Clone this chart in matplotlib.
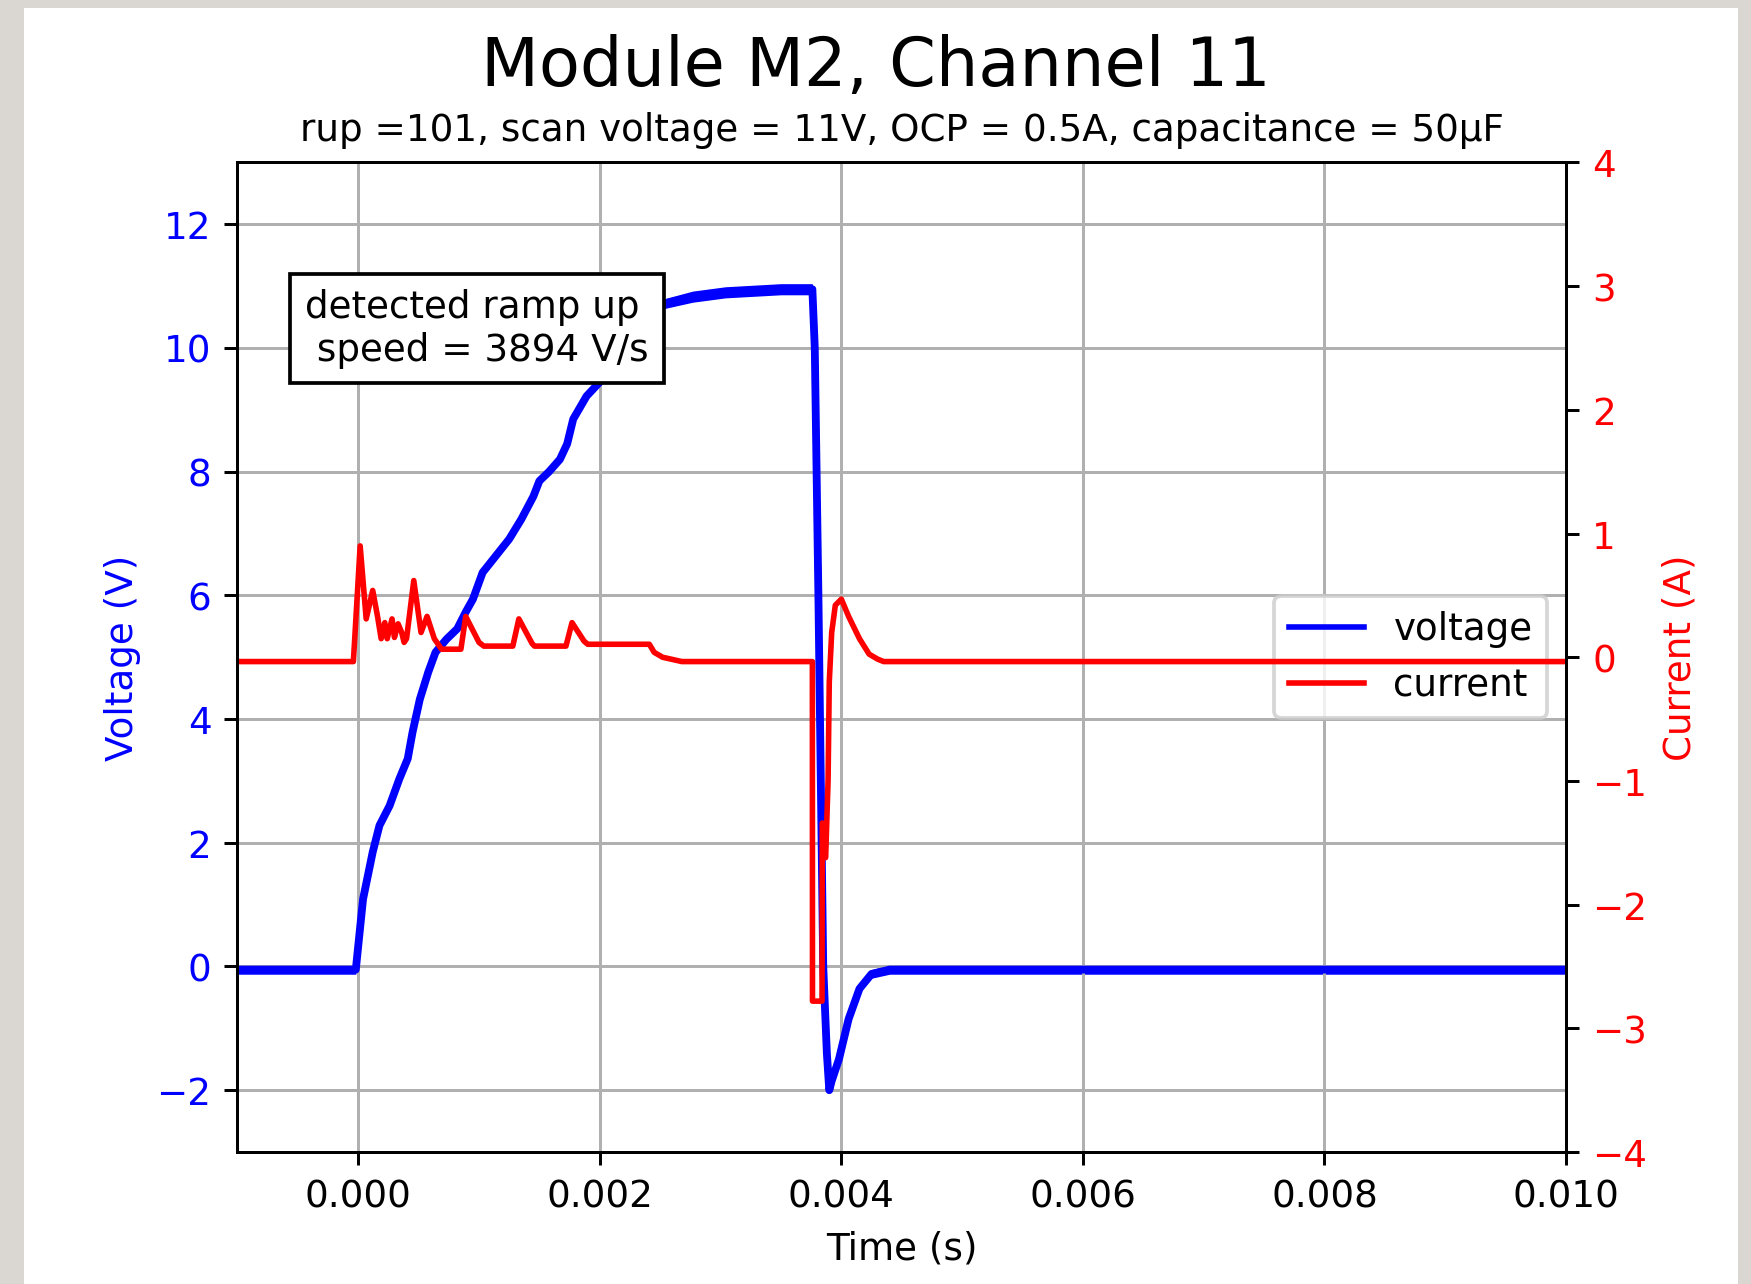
import matplotlib
matplotlib.use("Agg")
import matplotlib.pyplot as plt
import numpy as np
from matplotlib.patches import Rectangle

# Ramp-up scan, module M2 / channel 11
module = "M2"
channel = 11
rup = 101
scan_voltage = 11
ocp = 0.5
capacitance = 50
ramp_speed = 3894

# voltage trace (s, V) and the half-width of its noise band (V)
t_v = [-0.0011, -0.00002, 0.00004, 0.00012, 0.000176, 0.00026, 0.00034, 0.00041, 0.00045, 0.00051,
       0.00058, 0.00064, 0.00073, 0.00082, 0.00089, 0.00095, 0.00103, 0.00114, 0.00125, 0.00135,
       0.00145, 0.0015, 0.00158, 0.00167, 0.00173, 0.00178, 0.00189, 0.0020, 0.0022, 0.0024,
       0.00254, 0.00277, 0.00304, 0.0035, 0.00376, 0.00378, 0.00381, 0.00385, 0.00388, 0.0039,
       0.00392, 0.00398, 0.00406, 0.00415, 0.00425, 0.0044, 0.0102]
voltage = [-0.05, -0.05, 1.09, 1.85, 2.28, 2.60, 3.03, 3.36, 3.79, 4.32,
           4.76, 5.08, 5.29, 5.46, 5.73, 5.94, 6.37, 6.64, 6.91, 7.23,
           7.6, 7.85, 8.0, 8.2, 8.45, 8.85, 9.22, 9.45, 9.9, 10.4,
           10.72, 10.83, 10.9, 10.95, 10.95, 10.0, 6.0, 0.0, -1.4, -2.0,
           -1.85, -1.5, -0.85, -0.36, -0.12, -0.05, -0.05]
v_noise = [0.075, 0.075] + [0.05] * 26 + [0.06, 0.07] + [0.08, 0.09, 0.09, 0.09, 0.09] + [0.0] * 5 + \
          [0.02, 0.04, 0.05, 0.06, 0.07, 0.075, 0.075]

# current trace (s, A)
t_i = [-0.0011, -0.00004, 0.000016, 0.000066, 0.00012, 0.00016, 0.00019, 0.00022, 0.00024, 0.00028,
       0.00030, 0.00033, 0.00036, 0.00038, 0.00040, 0.00046, 0.00052, 0.00057, 0.00063, 0.00069,
       0.00085, 0.00089, 0.0010, 0.00104, 0.00128, 0.00133, 0.00144, 0.00146, 0.00172, 0.00177,
       0.00187, 0.0019, 0.00241, 0.00245, 0.00252, 0.00268, 0.00376, 0.003761, 0.00384, 0.003842,
       0.00386, 0.003865, 0.00387, 0.00389, 0.0039, 0.00392, 0.00395, 0.0040, 0.00406, 0.00415,
       0.00423, 0.0043, 0.00435, 0.0102]
current = [-0.035, -0.035, 0.90, 0.31, 0.54, 0.33, 0.15, 0.28, 0.15, 0.31,
           0.16, 0.27, 0.20, 0.12, 0.15, 0.62, 0.20, 0.33, 0.15, 0.065,
           0.065, 0.33, 0.12, 0.09, 0.09, 0.31, 0.11, 0.09, 0.09, 0.28,
           0.13, 0.105, 0.105, 0.04, 0.0, -0.035, -0.035, -2.78, -2.78, -1.34,
           -1.36, -1.62, -1.62, -1.0, -0.2, 0.2, 0.42, 0.47, 0.33, 0.15,
           0.025, -0.015, -0.035, -0.035]

x_ticks = [0.000, 0.002, 0.004, 0.006, 0.008, 0.010]
v_ticks = [-2, 0, 2, 4, 6, 8, 10, 12]
i_ticks = [-4, -3, -2, -1, 0, 1, 2, 3, 4]

W, H, DPI = 1752, 1285, 268
fig = plt.figure(figsize=((W - 0.5) / DPI, (H - 0.5) / DPI), dpi=DPI, facecolor="#dad6d2")
# white canvas panel inside the grey frame
fig.patches.append(Rectangle((24 / W, 0), 1714 / W, 1276 / H, transform=fig.transFigure,
                             facecolor="white", edgecolor="none", zorder=-10))

ax1 = fig.add_axes([237.5 / W, 1 - 1153 / H, 1329 / W, 990 / H])
ax2 = ax1.twinx()

t_v = np.array(t_v)
voltage = np.array(voltage)
v_noise = np.array(v_noise)
ax1.fill_between(t_v, voltage - v_noise, voltage + v_noise, color="blue", lw=0)
ax1.plot(t_v, voltage, color="blue", lw=2.1, label="voltage")
ax2.plot(t_i, current, color="red", lw=1.5, label="current")

ax1.set_xlim(-0.001, 0.010)
ax1.set_xticks(x_ticks)
ax1.set_ylim(-3, 13)
ax1.set_yticks(v_ticks)
ax2.set_ylim(-4, 4)
ax2.set_yticks(i_ticks)
ax1.grid(True)

ax1.set_xlabel("Time (s)")
ax1.set_ylabel("Voltage (V)", color="blue")
ax2.set_ylabel("Current (A)", color="red")
ax1.tick_params(axis="y", labelcolor="blue")
ax2.tick_params(axis="y", labelcolor="red")

fig.suptitle(f"Module {module}, Channel {channel}", fontsize=18, y=1 - 34 / H, va="top")
ax1.set_title(f"rup ={rup}, scan voltage = {scan_voltage}V, OCP = {ocp}A, "
              f"capacitance = {capacitance}\u00b5F", fontsize=10)

ax1.text(0.1804, 0.832, f"detected ramp up\n speed = {ramp_speed} V/s", transform=ax1.transAxes,
         ha="center", va="center", multialignment="left", zorder=5,
         bbox=dict(facecolor="white", edgecolor="black"))

lines = ax1.get_lines() + ax2.get_lines()
leg = ax1.legend(lines, [l.get_label() for l in lines], loc="center right")
for h in leg.get_lines():
    h.set_linewidth(1.5)

fig.savefig("out.png", dpi=DPI, facecolor=fig.get_facecolor())
